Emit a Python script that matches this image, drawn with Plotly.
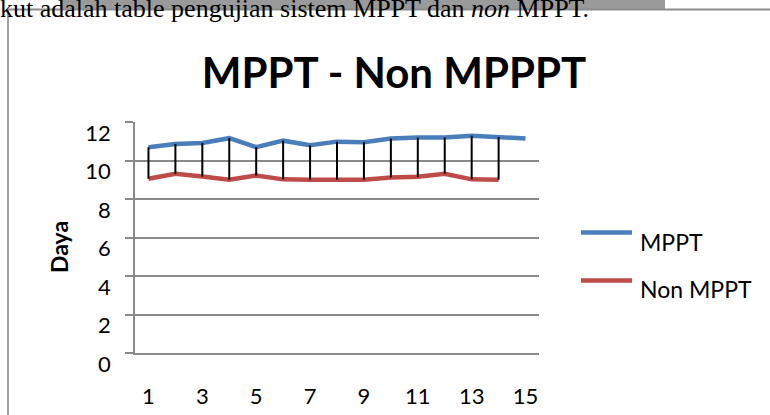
import plotly.graph_objects as go

# ---- data ----
points = list(range(1, 16))
mppt = [10.69, 10.86, 10.91, 11.16, 10.69, 11.03, 10.79, 10.98, 10.95, 11.14, 11.19, 11.20, 11.29, 11.22, 11.14]
non_mppt = [9.05, 9.31, 9.17, 9.00, 9.22, 9.02, 9.00, 9.00, 9.00, 9.12, 9.15, 9.31, 9.02, 9.00]
x_ticks = [1, 3, 5, 7, 9, 11, 13, 15]
y_ticks = [0, 2, 4, 6, 8, 10, 12]
title_text = "MPPT - Non MPPPT"
y_title = "Daya"
series_names = ["MPPT", "Non MPPT"]
doc_text = "kut adalah table pengujian sistem MPPT dan <i>non</i> MPPT."

W, H = 770, 415
ML, MR, MT, MB = 135, 231, 122, 62
BLUE = "#4A7EBB"
RED = "#BE4B48"
GRID = "#8A8A8A"
FONT = "Lato"

def pxx(x):
    return (x - ML) / (W - ML - MR)

def pxy(y):
    return (H - MB - y) / (H - MT - MB)

fig = go.Figure()

fig.add_trace(go.Scatter(x=points[:len(mppt)], y=mppt, mode="lines", name=series_names[0],
                         line=dict(color=BLUE, width=4.5), showlegend=False))
fig.add_trace(go.Scatter(x=points[:len(non_mppt)], y=non_mppt, mode="lines", name=series_names[1],
                         line=dict(color=RED, width=4.5), showlegend=False))

# high-low lines between the series
hx, hy = [], []
for i in range(min(len(mppt), len(non_mppt))):
    hx += [points[i], points[i], None]
    hy += [mppt[i], non_mppt[i], None]
fig.add_trace(go.Scatter(x=hx, y=hy, mode="lines", line=dict(color="black", width=2),
                         showlegend=False, hoverinfo="skip"))

shapes = [
    # gray band at top of page
    dict(type="rect", xref="paper", yref="paper", x0=pxx(60), x1=pxx(665), y0=pxy(9), y1=pxy(-2),
         fillcolor="#9A9A9A", line=dict(width=0), layer="above"),
    # frame lines
    dict(type="line", xref="paper", yref="paper", x0=pxx(8), x1=pxx(772), y0=pxy(9.5), y1=pxy(9.5),
         line=dict(color="#8C8C8C", width=2)),
    dict(type="line", xref="paper", yref="paper", x0=pxx(8), x1=pxx(8), y0=pxy(9.5), y1=pxy(420),
         line=dict(color="#A0A0A0", width=2)),
    # legend samples
    dict(type="line", xref="paper", yref="paper", x0=pxx(581), x1=pxx(632), y0=pxy(232.5), y1=pxy(232.5),
         line=dict(color=BLUE, width=4.5)),
    dict(type="line", xref="paper", yref="paper", x0=pxx(581), x1=pxx(632), y0=pxy(280.5), y1=pxy(280.5),
         line=dict(color=RED, width=4.5)),
]

annotations = [
    dict(text=doc_text, xref="paper", yref="paper", x=pxx(-2), y=pxy(25), xanchor="left", yanchor="bottom",
         showarrow=False, font=dict(family="Liberation Serif", size=26, color="black")),
    dict(text=f"<b>{y_title}</b>", xref="paper", yref="paper", x=pxx(59), y=pxy(247), xanchor="center",
         yanchor="middle", textangle=-90, showarrow=False, font=dict(family=FONT, size=23, color="black")),
    dict(text=series_names[0], xref="paper", yref="paper", x=pxx(638), y=pxy(242), xanchor="left",
         yanchor="middle", showarrow=False, font=dict(family=FONT, size=23, color="black")),
    dict(text=series_names[1], xref="paper", yref="paper", x=pxx(638), y=pxy(289), xanchor="left",
         yanchor="middle", showarrow=False, font=dict(family=FONT, size=23, color="black")),
]

fig.update_layout(
    width=W, height=H,
    margin=dict(l=ML, r=MR, t=MT, b=MB, pad=0, autoexpand=False),
    paper_bgcolor="white", plot_bgcolor="white",
    showlegend=False,
    title=dict(text=f"<b>{title_text}</b>", xref="container", yref="container",
               x=394 / W, xanchor="center", y=1 - 73 / H, yanchor="middle",
               font=dict(family=FONT, size=42, color="black")),
    shapes=shapes,
    annotations=annotations,
    xaxis=dict(range=[0.5, 15.5], tickvals=x_ticks, ticktext=[str(v) for v in x_ticks],
               showgrid=False, zeroline=False, showline=True, linecolor=GRID, linewidth=1.5,
               automargin=False,
               ticks="", ticklabelstandoff=23, tickfont=dict(family=FONT, size=22, color="black")),
    yaxis=dict(range=[0, 12], tickvals=y_ticks, ticktext=[str(v) for v in y_ticks],
               showgrid=True, gridcolor=GRID, gridwidth=1.5, zeroline=False,
               showline=True, linecolor=GRID, linewidth=1.5, automargin=False,
               ticks="outside", ticklen=8, tickcolor=GRID, tickwidth=1.5,
               ticklabelstandoff=10, ticklabelshift=11,
               tickfont=dict(family=FONT, size=22, color="black")),
)

fig.write_html("out.html", config={"displayModeBar": False},
               post_script="document.body.style.margin='0px';document.body.style.overflow='hidden';")
